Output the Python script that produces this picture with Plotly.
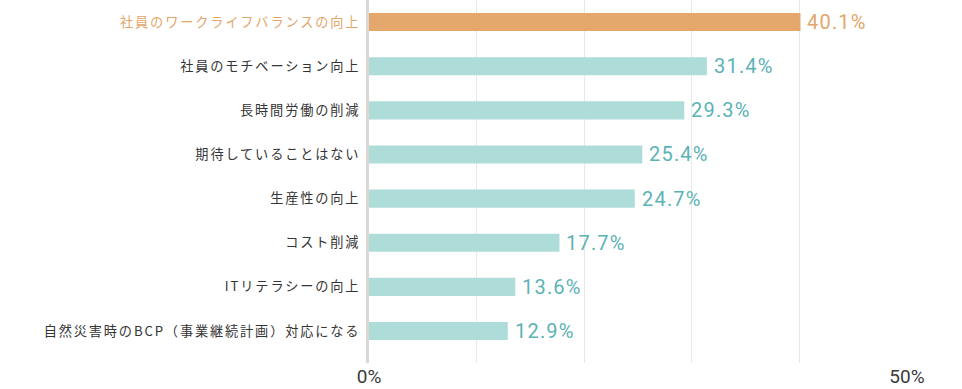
import plotly.graph_objects as go

categories = [
    "社員のワークライフバランスの向上",
    "社員のモチベーション向上",
    "長時間労働の削減",
    "期待していることはない",
    "生産性の向上",
    "コスト削減",
    "ITリテラシーの向上",
    "自然災害時のBCP（事業継続計画）対応になる",
]
values = [40.1, 31.4, 29.3, 25.4, 24.7, 17.7, 13.6, 12.9]
highlight = 0
tick_vals = [0, 10, 20, 30, 40, 50]
tick_text = ["0%", "", "", "", "", "50%"]

ORANGE_BAR = "#E4A86C"
TEAL_BAR = "#AEDCD8"
ORANGE_TXT = "#E3A66A"
TEAL_TXT = "#5BB3B5"

bar_colors = [ORANGE_BAR if i == highlight else TEAL_BAR for i in range(len(values))]
txt_colors = [ORANGE_TXT if i == highlight else TEAL_TXT for i in range(len(values))]

LS = "letter-spacing:1.85px"
cat_text = []
for i, c in enumerate(categories):
    col = ORANGE_TXT if i == highlight else "#353535"
    cat_text.append(f'<span style="color:{col};{LS}">{c}</span>')

fig = go.Figure()
fig.add_trace(go.Bar(
    x=values,
    y=list(range(len(categories))),
    orientation="h",
    marker=dict(color=bar_colors, line=dict(width=0)),
    width=0.41,
    hoverinfo="skip",
))

for i, v in enumerate(values):
    fig.add_annotation(
        x=v, y=i, text=f'<span style="letter-spacing:1.2px">{v:.1f}%</span>',
        xanchor="left", yanchor="middle", xshift=5, yshift=0,
        showarrow=False,
        font=dict(family="Roboto, Noto Sans", size=20, color=txt_colors[i]),
    )

fig.update_layout(
    width=962, height=389,
    margin=dict(l=369, r=55, t=0, b=26, autoexpand=False),
    paper_bgcolor="white", plot_bgcolor="white",
    showlegend=False,
)
fig.update_xaxes(
    range=[0, 50],
    tickvals=tick_vals, ticktext=tick_text,
    showgrid=True, gridcolor="#E8E8E8", gridwidth=1,
    zeroline=False, showline=False,
    tickfont=dict(family="Roboto, Noto Sans", size=19, color="#3a3a3a"),
    ticks="", automargin=False,
    fixedrange=True,
)
fig.update_yaxes(
    range=[7.725, -0.5],
    tickvals=list(range(len(categories))), ticktext=cat_text,
    showgrid=False, zeroline=False,
    showline=True, linecolor="#DCD7D2", linewidth=3,
    ticks="outside", ticklen=3, tickcolor="rgba(0,0,0,0)",
    tickfont=dict(family="Noto Sans CJK JP", size=13.2, color="#353535"),
    automargin=False,
    fixedrange=True,
)

fig.write_html(
    "out.html",
    config={"displayModeBar": False},
    post_script="document.body.style.margin='0';document.body.style.overflow='hidden';",
)
